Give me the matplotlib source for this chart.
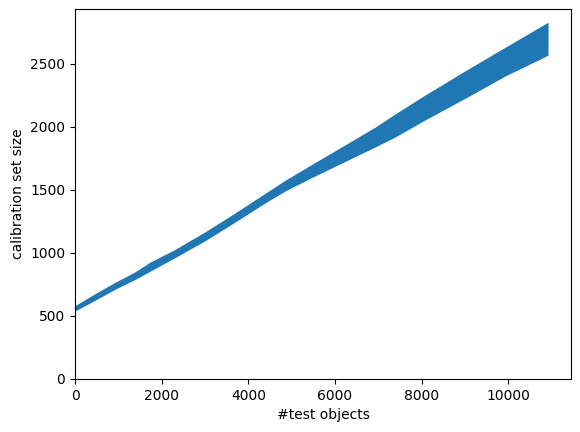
import matplotlib
matplotlib.use("Agg")
import matplotlib.pyplot as plt

# Band (the oscillating series' lower/upper envelope)
test_objects = [0, 460, 920, 1390, 1730, 2310, 3000, 3650, 4390, 4850,
                5540, 6240, 6930, 7390, 8080, 9010, 9930, 10900]
size_lower = [545, 630, 717, 796, 860, 969, 1102, 1241, 1403, 1497,
              1616, 1732, 1846, 1925, 2060, 2233, 2409, 2570]
size_upper = [575, 670, 759, 844, 920, 1021, 1160, 1300, 1466, 1569,
              1710, 1851, 1991, 2095, 2245, 2438, 2624, 2819]

fig = plt.figure(figsize=(5.8, 4.32), dpi=100)
ax = fig.add_axes([75 / 580, (432 - 379) / 432, 496 / 580, 370 / 432])
ax.fill_between(test_objects, size_lower, size_upper, color="#1f77b4",
                linewidth=1.0, edgecolor="#1f77b4")
ax.set_xlim(left=0)
ax.set_ylim(bottom=0)
ax.set_xlabel("#test objects")
ax.set_ylabel("calibration set size")
fig.savefig("out.png", dpi=100)
